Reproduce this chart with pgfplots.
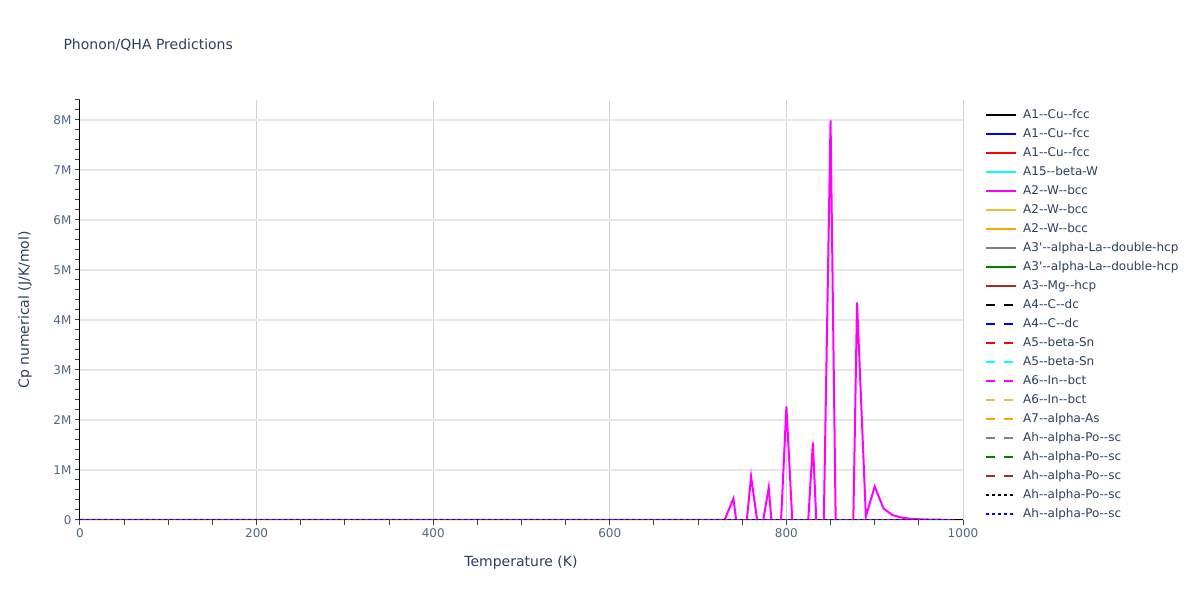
\documentclass[border=0pt]{standalone}
\usepackage{fontspec}
\setmainfont{DejaVu Sans}[Ligatures=TeXOff]
\usepackage{pgfplots}
\pgfplotsset{compat=1.18}
\definecolor{textc}{HTML}{2A3F5F}
\definecolor{tickc}{HTML}{506784}
\definecolor{cgold}{RGB}{232,193,58}
\definecolor{corange}{RGB}{255,165,0}
\definecolor{cgray}{RGB}{128,128,128}
\definecolor{cgreen}{RGB}{0,128,0}
\definecolor{cbrown}{RGB}{165,42,42}
\definecolor{cmag}{RGB}{255,0,255}
\definecolor{ccyan}{RGB}{0,255,255}
\begin{document}
\begin{tikzpicture}
\path[use as bounding box] (0,0) rectangle (1200pt,600pt);
\node[anchor=base west, font=\fontsize{14}{17}\selectfont, text=textc] at (60pt,550pt) {Phonon/QHA Predictions};
\begin{axis}[
  at={(80pt,80pt)}, anchor=south west,
  width=883pt, height=420pt, scale only axis,
  xmin=0, xmax=1000, ymin=0, ymax=8400000,
  axis lines*=left,
  axis line style={black, line width=1pt},
  xtick={0,200,400,600,800,1000},
  minor xtick={50,100,150,250,300,350,450,500,550,650,700,750,850,900,950},
  ytick={0,1000000,2000000,3000000,4000000,5000000,6000000,7000000,8000000},
  yticklabels={0,1M,2M,3M,4M,5M,6M,7M,8M},
  minor ytick={200000,400000,600000,800000,1200000,1400000,1600000,1800000,2200000,2400000,2600000,2800000,3200000,3400000,3600000,3800000,4200000,4400000,4600000,4800000,5200000,5400000,5600000,5800000,6200000,6400000,6600000,6800000,7200000,7400000,7600000,7800000,8200000,8400000},
  scaled y ticks=false,
  tick align=outside,
  major tick length=5pt, minor tick length=5pt,
  tick style={black!75, line width=1pt},
  grid=major,
  major x grid style={gray!35, line width=1pt},
  major y grid style={gray!18, line width=1.5pt},
  ticklabel style={font=\fontsize{12}{14}\selectfont, text=tickc},
  /pgf/number format/assume math mode=true,
  /pgf/number format/1000 sep={},
  legend cell align=left,
  legend image code/.code={\draw[#1] (0pt,0pt) -- (30pt,0pt);},
  legend style={at={(1.0215,0.983)}, anchor=north west, draw=none, fill=none,
    font=\fontsize{12}{14}\selectfont, text=textc,
    nodes={inner sep=0pt, text height=9pt, text depth=3pt},
    row sep=7pt, column sep=6pt},
  clip=true,
  every axis plot/.append style={line width=2pt},
]
\addplot[black] coordinates {(0,0) (990,0)};
\addlegendentry{A1--Cu--fcc}
\addplot[blue] coordinates {(0,0) (990,0)};
\addlegendentry{A1--Cu--fcc}
\addplot[red] coordinates {(0,0) (990,0)};
\addlegendentry{A1--Cu--fcc}
\addplot[ccyan] coordinates {(0,0) (990,0)};
\addlegendentry{A15--beta-W}
\addplot[cmag] coordinates {
  (0,0) (720,0) (730,0) (740,430000) (750,-950000) (760,870000)
  (770,-400000) (780,650000) (790,-1500000) (800,2270000)
  (810,-1150000) (820,-1400000) (830,1550000) (840,-2500000)
  (850,7990000) (860,-5800000) (870,-6000000) (880,4350000)
  (890,70000) (900,670000) (910,230000) (920,100000) (930,50000)
  (940,25000) (950,15000) (960,10000) (970,6000) (980,4000) (990,2000)
};
\addlegendentry{A2--W--bcc}
\addplot[cgold] coordinates {(0,0) (990,0)};
\addlegendentry{A2--W--bcc}
\addplot[corange] coordinates {(0,0) (990,0)};
\addlegendentry{A2--W--bcc}
\addplot[cgray] coordinates {(0,0) (990,0)};
\addlegendentry{A3'--alpha-La--double-hcp}
\addplot[cgreen] coordinates {(0,0) (990,0)};
\addlegendentry{A3'--alpha-La--double-hcp}
\addplot[cbrown] coordinates {(0,0) (990,0)};
\addlegendentry{A3--Mg--hcp}
\addplot[black, dash pattern=on 9pt off 9pt] coordinates {(0,0) (990,0)};
\addlegendentry{A4--C--dc}
\addplot[blue, dash pattern=on 9pt off 9pt] coordinates {(0,0) (990,0)};
\addlegendentry{A4--C--dc}
\addplot[red, dash pattern=on 9pt off 9pt] coordinates {(0,0) (990,0)};
\addlegendentry{A5--beta-Sn}
\addplot[ccyan, dash pattern=on 9pt off 9pt] coordinates {(0,0) (990,0)};
\addlegendentry{A5--beta-Sn}
\addplot[cmag, dash pattern=on 9pt off 9pt] coordinates {(0,0) (990,0)};
\addlegendentry{A6--In--bct}
\addplot[cgold, dash pattern=on 9pt off 9pt] coordinates {(0,0) (990,0)};
\addlegendentry{A6--In--bct}
\addplot[corange, dash pattern=on 9pt off 9pt] coordinates {(0,0) (990,0)};
\addlegendentry{A7--alpha-As}
\addplot[cgray, dash pattern=on 9pt off 9pt] coordinates {(0,0) (990,0)};
\addlegendentry{Ah--alpha-Po--sc}
\addplot[cgreen, dash pattern=on 9pt off 9pt] coordinates {(0,0) (990,0)};
\addlegendentry{Ah--alpha-Po--sc}
\addplot[cbrown, dash pattern=on 9pt off 9pt] coordinates {(0,0) (990,0)};
\addlegendentry{Ah--alpha-Po--sc}
\addplot[black, dash pattern=on 3pt off 3pt] coordinates {(0,0) (990,0)};
\addlegendentry{Ah--alpha-Po--sc}
\addplot[blue, dash pattern=on 3pt off 3pt] coordinates {(0,0) (990,0)};
\addlegendentry{Ah--alpha-Po--sc}
\end{axis}
\node[font=\fontsize{14}{16}\selectfont, text=textc] at (521pt,37pt) {Temperature (K)};
\node[rotate=90, font=\fontsize{14}{16}\selectfont, text=textc] at (25pt,290pt) {Cp numerical (J/K/mol)};
\end{tikzpicture}
\end{document}
